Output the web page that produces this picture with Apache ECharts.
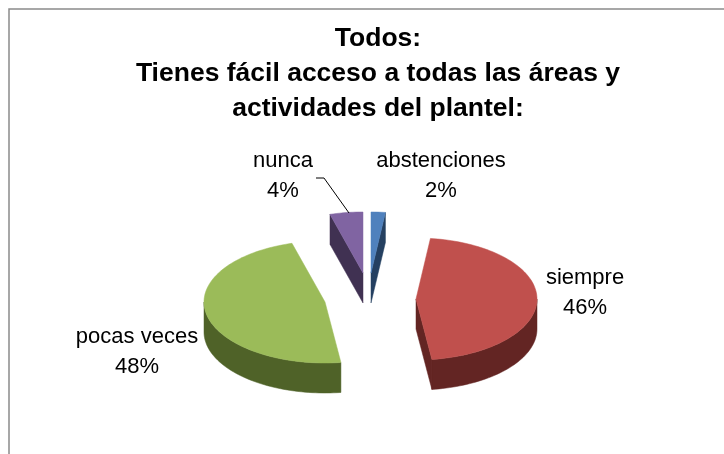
<!DOCTYPE html>
<html><head><meta charset="utf-8">
<style>html,body{margin:0;padding:0;background:#fff}#c{width:724px;height:454px}</style>
<script src="https://cdn.jsdelivr.net/npm/echarts@6/dist/echarts.min.js"></script>
</head><body><div id="c"></div>
<script>
const categories = ['siempre', 'pocas veces', 'nunca', 'abstenciones'];
const values = [46, 47.7, 4.4, 1.9];
const titleLines = ['Todos:', 'Tienes fácil acceso a todas las áreas y', 'actividades del plantel:'];

const topColors = ['#C0504D', '#9BBB59', '#8064A2', '#4F81BD'];
const sideColors = ['#632523', '#4F6228', '#403152', '#254061'];
// exploded slice tips and label centres, in pixels
const tips = [[416, 299], [325, 302], [363, 273], [371, 273]];
const labelPos = [[585, 293], [137, 352], [283, 176], [441, 176]];
const RX = 121, RY = 61, DEPTH = 30, FIRST_ANGLE = 6.84;
const total = values.reduce((a, b) => a + b, 0);

function renderItem(params, api) {
  const i = params.dataIndex;
  const v = api.value(0);
  let before = 0;
  for (let k = 0; k < i; k++) before += values[k];
  const a1 = (FIRST_ANGLE + 360 * before / total) * Math.PI / 180;
  const a2 = a1 + (360 * v / total) * Math.PI / 180;
  const [cx, cy] = tips[i];
  const pt = (a, d) => [cx + RX * Math.sin(a), cy - RY * Math.cos(a) + (d || 0)];
  const arc = (from, to, d) => {
    const n = Math.max(2, Math.ceil(Math.abs(to - from) / 0.03)), out = [];
    for (let k = 0; k <= n; k++) out.push(pt(from + (to - from) * k / n, d));
    return out;
  };
  const side = sideColors[i], top = topColors[i];
  const poly = (points, fill) => ({
    type: 'polygon', shape: { points },
    style: { fill, stroke: fill, lineWidth: 0.5 }
  });
  const children = [];
  // radial walls facing the viewer
  if (Math.sin(a1) < -1e-6) children.push(poly([[cx, cy], pt(a1), pt(a1, DEPTH), [cx, cy + DEPTH]], side));
  if (Math.sin(a2) > 1e-6) children.push(poly([[cx, cy], pt(a2), pt(a2, DEPTH), [cx, cy + DEPTH]], side));
  // outer wall on the front half of the rim
  const lo = Math.max(a1, Math.PI / 2), hi = Math.min(a2, Math.PI * 1.5);
  if (hi > lo) children.push(poly(arc(lo, hi, 0).concat(arc(hi, lo, DEPTH)), side));
  // top face
  children.push(poly([[cx, cy]].concat(arc(a1, a2, 0)), top));
  // data label
  children.push({
    type: 'text',
    style: {
      x: labelPos[i][0], y: labelPos[i][1],
      text: categories[i] + '\n' + Math.round(100 * v / total) + '%',
      fill: '#000', font: '22px "Liberation Sans"', lineHeight: 30,
      align: 'center', verticalAlign: 'middle'
    }
  });
  return { type: 'group', children };
}

const chart = echarts.init(document.getElementById('c'), null, { renderer: 'canvas' });
chart.setOption({
  animation: false,
  backgroundColor: '#fff',
  title: {
    text: titleLines.join('\n'), left: 373, top: 16, textAlign: 'center',
    textStyle: { fontFamily: 'Liberation Sans', fontWeight: 'bold', fontSize: 26.5, lineHeight: 35, color: '#000' }
  },
  graphic: [
    { type: 'polyline', shape: { points: [[9, 454], [9, 9], [724, 9]] }, style: { stroke: '#8a8a8a', lineWidth: 1.5, fill: null } },
    { type: 'polyline', shape: { points: [[316, 178], [324, 178], [349, 213]] }, style: { stroke: '#000', lineWidth: 1, fill: null }, z: 10 }
  ],
  series: [{
    type: 'custom', coordinateSystem: 'none', renderItem,
    data: values.map((v, i) => ({ name: categories[i], value: [v] }))
  }]
});
</script></body></html>
